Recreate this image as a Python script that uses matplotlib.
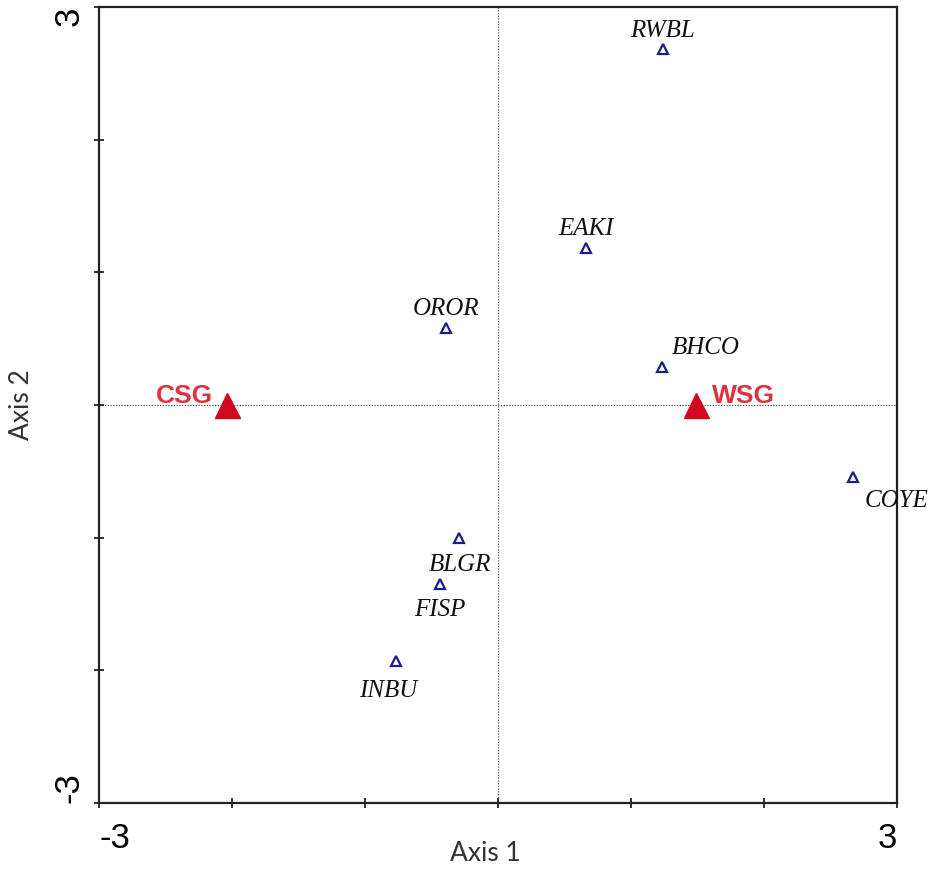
import numpy as np
import matplotlib.pyplot as plt
import matplotlib.transforms as mtransforms

# species scores (ordination axes 1 and 2)
species = ['RWBL', 'EAKI', 'OROR', 'BHCO', 'COYE', 'BLGR', 'FISP', 'INBU']
sp_x = [1.24, 0.66, -0.39, 1.23, 2.67, -0.29, -0.44, -0.77]
sp_y = [2.68, 1.18, 0.58, 0.29, -0.54, -1.00, -1.35, -1.93]

# grassland type centroids
groups = ['CSG', 'WSG']
grp_x = [-2.04, 1.49]
grp_y = [0.0, 0.0]

ticks = [-3, -2, -1, 0, 1, 2, 3]
tick_labels = ['-3', '', '', '', '', '', '3']

# label offsets in pixels from the point to the text baseline
sp_off = {'RWBL': (0, 12), 'EAKI': (0, 13), 'OROR': (0, 13),
          'BHCO': (44, 13), 'COYE': (43, -30), 'BLGR': (0, -33),
          'FISP': (0, -32), 'INBU': (-7, -36)}

fig = plt.figure(figsize=(9.35, 8.69), dpi=100)
ax = fig.add_axes([0.1059, 0.0760, 0.8535, 0.9159])

ax.axhline(0, color='#555555', lw=0.9, ls=(0, (1, 1.2)), zorder=1)
ax.axvline(0, color='#555555', lw=0.9, ls=(0, (1, 1.2)), zorder=1)

ax.plot(sp_x, sp_y, '^', ms=7.5, mfc='white', mec='#1c1c8a', mew=1.6,
        ls='none', zorder=3)
for name, x, y in zip(species, sp_x, sp_y):
    dx, dy = sp_off[name]
    ax.annotate(name, (x, y), xytext=(dx, dy), textcoords='offset pixels',
                ha='center', va='baseline',
                fontfamily='Liberation Serif', fontstyle='italic',
                fontsize=18, color='#111111')

ax.plot(grp_x, grp_y, '^', ms=18, color='#d0071e', ls='none', zorder=4)
ax.annotate(groups[0], (grp_x[0], grp_y[0]), xytext=(-14, 2),
            textcoords='offset pixels', ha='right', va='baseline',
            fontfamily='Liberation Sans', fontweight='bold', fontsize=19,
            color='#e0323e')
ax.annotate(groups[1], (grp_x[1], grp_y[1]), xytext=(16, 2),
            textcoords='offset pixels', ha='left', va='baseline',
            fontfamily='Liberation Sans', fontweight='bold', fontsize=19,
            color='#e0323e')

ax.set_xlim(-3, 3)
ax.set_ylim(-3, 3)
ax.set_xticks(ticks)
ax.set_yticks(ticks)
ax.set_xticklabels(tick_labels, fontfamily='Liberation Sans', fontsize=25)
ax.set_yticklabels(tick_labels, fontfamily='Liberation Sans', fontsize=25,
                   rotation=90)
xl = ax.get_xticklabels()
xl[0].set_ha('left')
xl[-1].set_ha('right')
yl = ax.get_yticklabels()
yl[0].set_va('bottom')
yl[-1].set_va('top')
# nudge the rotated end labels a little inward
yl[0].set_transform(yl[0].get_transform() +
                    mtransforms.ScaledTranslation(0, 6 / 100, fig.dpi_scale_trans))
yl[-1].set_transform(yl[-1].get_transform() +
                     mtransforms.ScaledTranslation(0, -6 / 100, fig.dpi_scale_trans))
ax.tick_params(direction='inout', length=7, width=1.3, color='#222222',
               pad=10)
ax.tick_params(axis='y', pad=6)

for s in ax.spines.values():
    s.set_linewidth(1.6)
    s.set_color('#222222')

ax.set_xlabel('Axis 1', fontfamily='Lato', fontsize=19, color='#333333')
ax.set_ylabel('Axis 2', fontfamily='Lato', fontsize=19, color='#333333')
ax.xaxis.set_label_coords(0.484, -0.048)
ax.yaxis.set_label_coords(-0.081, 0.5)

fig.savefig('out.png', dpi=100)
